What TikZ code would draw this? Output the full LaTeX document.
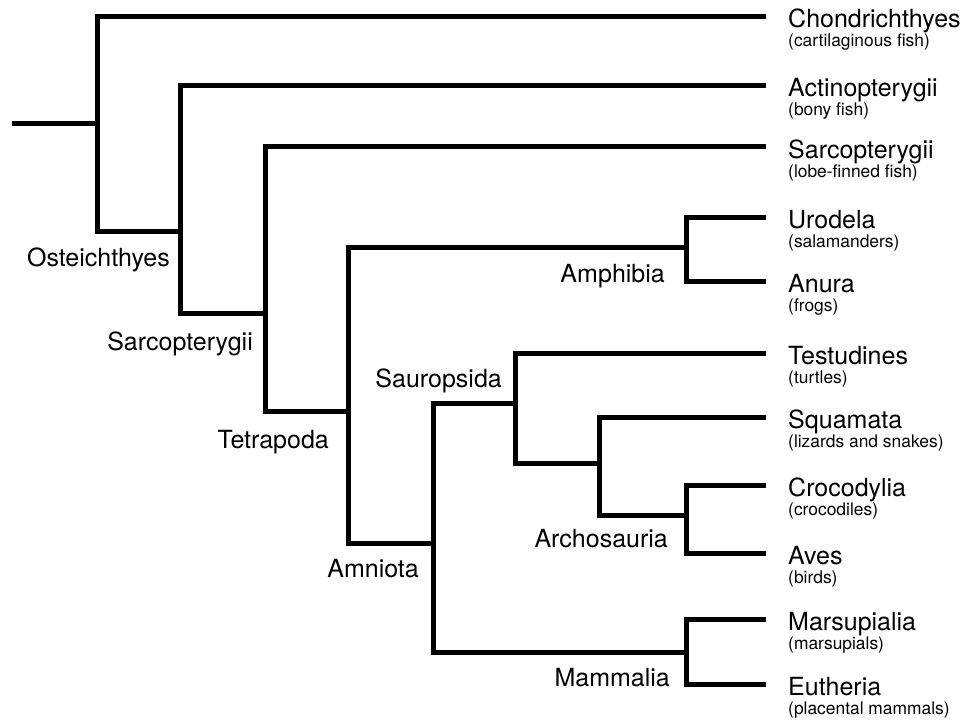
\documentclass[tikz,border=0pt]{standalone}
\usepackage{fontspec}
\setmainfont{TeX Gyre Heros}
\begin{document}
\begin{tikzpicture}[x=1pt,y=-1pt,
  br/.style={line width=5pt,line join=miter,line cap=butt},
  taxon/.style={anchor=base west,inner sep=0pt,font=\fontsize{25}{28}\selectfont},
  common/.style={anchor=base west,inner sep=0pt,font=\fontsize{17.4}{20}\selectfont},
  clade/.style={anchor=base east,inner sep=0pt,font=\fontsize{25}{28}\selectfont}]
\useasboundingbox (0,0) rectangle (965,722);
% coordinates
\coordinate (r0) at (12,124);
\coordinate (n1) at (97,124);
\coordinate (n2) at (180,231);
\coordinate (n3) at (265,313);
\coordinate (n4) at (348,411);
\coordinate (nAmph) at (686,247);
\coordinate (n5) at (433,543);
\coordinate (nSau) at (515,403);
\coordinate (n6) at (599,463);
\coordinate (nArc) at (686,515);
\coordinate (nMam) at (686,652);
\def\tx{766}
\coordinate (tChon) at (\tx,17);
\coordinate (tAct) at (\tx,86);
\coordinate (tSar) at (\tx,147);
\coordinate (tUro) at (\tx,217);
\coordinate (tAnu) at (\tx,281);
\coordinate (tTes) at (\tx,353);
\coordinate (tSqu) at (\tx,417);
\coordinate (tCro) at (\tx,485);
\coordinate (tAve) at (\tx,553);
\coordinate (tMar) at (\tx,619);
\coordinate (tEut) at (\tx,684);
% branches
\draw[br] (r0) -- (n1);
\draw[br] (tChon) -| (n1) |- (n2);
\draw[br] (tAct) -| (n2) |- (n3);
\draw[br] (tSar) -| (n3) |- (n4);
\draw[br] (nAmph) -| (n4) |- (n5);
\draw[br] (tUro) -| (nAmph) |- (tAnu);
\draw[br] (nSau) -| (n5) |- (nMam);
\draw[br] (tTes) -| (nSau) |- (n6);
\draw[br] (tSqu) -| (n6) |- (nArc);
\draw[br] (tCro) -| (nArc) |- (tAve);
\draw[br] (tMar) -| (nMam) |- (tEut);
% taxon labels
\def\lx{788}
\node[taxon] (lChon) at (\lx,28) {Chondrichthyes};
\node[common] (cChon) at (\lx,47) {(cartilaginous fish)};
\node[taxon] (lAct) at (\lx,97) {Actinopterygii};
\node[common] (cAct) at (\lx,116) {(bony fish)};
\node[taxon] (lSar) at (\lx,158) {Sarcopterygii};
\node[common] (cSar) at (\lx,177) {(lobe-finned fish)};
\node[taxon] (lUro) at (\lx,228) {Urodela};
\node[common] (cUro) at (\lx,247) {(salamanders)};
\node[taxon] (lAnu) at (\lx,292) {Anura};
\node[common] (cAnu) at (\lx,311) {(frogs)};
\node[taxon] (lTes) at (\lx,364) {Testudines};
\node[common] (cTes) at (\lx,383) {(turtles)};
\node[taxon] (lSqu) at (\lx,428) {Squamata};
\node[common] (cSqu) at (\lx,447) {(lizards and snakes)};
\node[taxon] (lCro) at (\lx,496) {Crocodylia};
\node[common] (cCro) at (\lx,515) {(crocodiles)};
\node[taxon] (lAve) at (\lx,564) {Aves};
\node[common] (cAve) at (\lx,583) {(birds)};
\node[taxon] (lMar) at (\lx,630) {Marsupialia};
\node[common] (cMar) at (\lx,649) {(marsupials)};
\node[taxon] (lEut) at (\lx,695) {Eutheria};
\node[common] (cEut) at (\lx,714) {(placental mammals)};
% clade labels
\node[clade] (kOst) at (170,266) {Osteichthyes};
\node[clade] (kSar) at (253,350) {Sarcopterygii};
\node[clade] (kTet) at (329,448) {Tetrapoda};
\node[clade] (kAmph) at (665,282) {Amphibia};
\node[clade] (kSau) at (502,387) {Sauropsida};
\node[clade] (kAmn) at (419,577) {Amniota};
\node[clade] (kArc) at (668,547) {Archosauria};
\node[clade] (kMam) at (670,686) {Mammalia};
\end{tikzpicture}
\end{document}
